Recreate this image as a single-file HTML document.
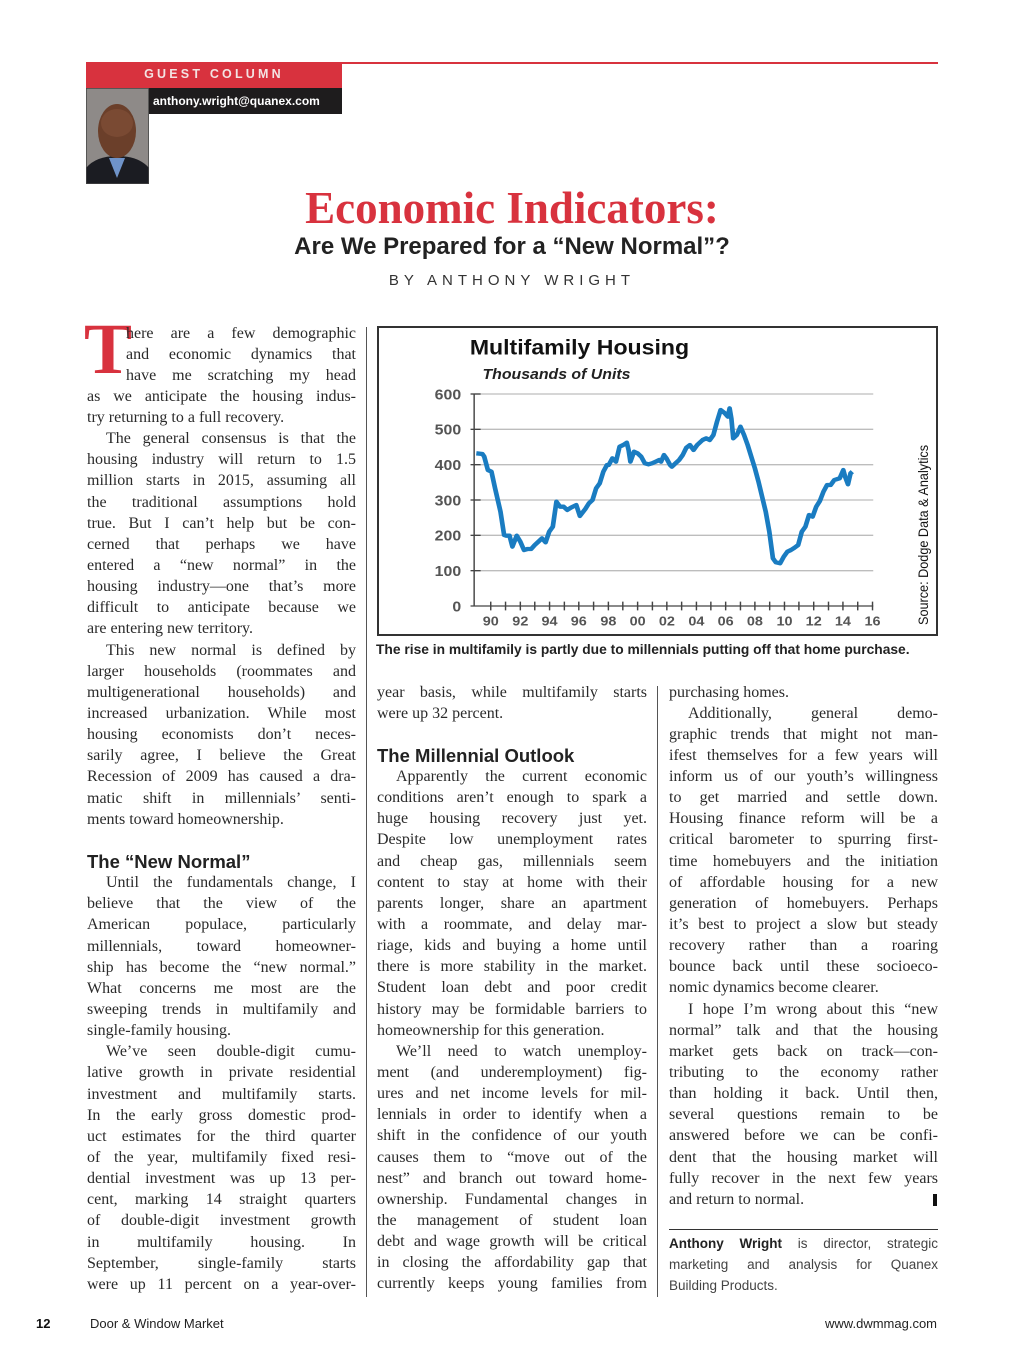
<!DOCTYPE html>
<html><head><meta charset="utf-8">
<style>
body{margin:0;background:#fff;}
#p{position:relative;width:1024px;height:1365px;overflow:hidden;background:#fff;font-family:"Liberation Serif",serif;color:#2a2a2a;}
.a{position:absolute;}
.col{position:absolute;width:269px;font-size:16px;}
.col div{height:21.15px;line-height:21.15px;text-align:justify;text-align-last:justify;overflow:hidden;}
.col div.l{text-align-last:left;}
.col div.i{text-indent:19px;}
.col div.h{font-family:"Liberation Sans",sans-serif;font-weight:bold;font-size:18.5px;text-align-last:left;color:#222;}
.col div.s{font-family:"Liberation Sans",sans-serif;font-size:13.5px;color:#444;}
</style></head><body><div id="p">

<div class="a" style="left:86px;top:62px;width:256px;height:26px;background:#d8323e;"></div>
<div class="a" style="left:342px;top:62px;width:596px;height:2px;background:#d8323e;"></div>
<div class="a" style="left:86px;top:67px;width:256px;text-align:center;font-family:'Liberation Sans',sans-serif;font-weight:bold;font-size:12.5px;letter-spacing:3.2px;color:#f3e3e3;">GUEST COLUMN</div>
<div class="a" style="left:148px;top:88px;width:194px;height:26px;background:#1e1c1d;"></div>
<div class="a" style="left:153px;top:94px;font-family:'Liberation Sans',sans-serif;font-weight:bold;font-size:12px;color:#fff;">anthony.wright@quanex.com</div>
<svg class="a" style="left:86px;top:88px" width="63" height="96" viewBox="0 0 63 96">
<rect width="63" height="96" fill="#8e8a88"/>
<path d="M0 96 L0 80 Q10 68 31 68 Q53 68 63 80 L63 96Z" fill="#1b1c22"/>
<path d="M23 70 L31 90 L39 70Z" fill="#6f93c9"/>
<ellipse cx="31" cy="43" rx="19" ry="27" fill="#6b3f2a"/>
<ellipse cx="31" cy="35" rx="16" ry="14" fill="#7a4a33"/>
<rect x="0" y="0" width="63" height="96" fill="none" stroke="#444" stroke-width="1.5"/>
</svg>

<div class="a" style="left:0;width:1024px;top:182px;text-align:center;font-family:'Liberation Serif',serif;font-weight:bold;font-size:45px;color:#d8323e;">Economic Indicators:</div>
<div class="a" style="left:0;width:1024px;top:233px;text-align:center;font-family:'Liberation Sans',sans-serif;font-weight:bold;font-size:24px;color:#222;">Are We Prepared for a “New Normal”?</div>
<div class="a" style="left:0;width:1024px;top:272px;text-align:center;font-family:'Liberation Sans',sans-serif;font-size:15px;letter-spacing:5px;color:#333;">BY ANTHONY WRIGHT</div>

<div class="a" style="left:84px;top:313px;font-family:'Liberation Serif',serif;font-weight:bold;font-size:72px;line-height:72px;color:#d8323e;">T</div>

<div class="col" style="left:87px;top:322.5px;">
<div style="margin-left:39px">here are a few demographic</div>
<div style="margin-left:39px">and economic dynamics that</div>
<div style="margin-left:39px">have me scratching my head</div>
<div>as we anticipate the housing indus-</div>
<div class="l">try returning to a full recovery.</div>
<div class="i">The general consensus is that the</div>
<div>housing industry will return to 1.5</div>
<div>million starts in 2015, assuming all</div>
<div>the traditional assumptions hold</div>
<div>true. But I can’t help but be con-</div>
<div>cerned that perhaps we have</div>
<div>entered a “new normal” in the</div>
<div>housing industry—one that’s more</div>
<div>difficult to anticipate because we</div>
<div class="l">are entering new territory.</div>
<div class="i">This new normal is defined by</div>
<div>larger households (roommates and</div>
<div>multigenerational households) and</div>
<div>increased urbanization. While most</div>
<div>housing economists don’t neces-</div>
<div>sarily agree, I believe the Great</div>
<div>Recession of 2009 has caused a dra-</div>
<div>matic shift in millennials’ senti-</div>
<div class="l">ments toward homeownership.</div>
<div class="l"></div>
<div class="h">The “New Normal”</div>
<div class="i">Until the fundamentals change, I</div>
<div>believe that the view of the</div>
<div>American populace, particularly</div>
<div>millennials, toward homeowner-</div>
<div>ship has become the “new normal.”</div>
<div>What concerns me most are the</div>
<div>sweeping trends in multifamily and</div>
<div class="l">single-family housing.</div>
<div class="i">We’ve seen double-digit cumu-</div>
<div>lative growth in private residential</div>
<div>investment and multifamily starts.</div>
<div>In the early gross domestic prod-</div>
<div>uct estimates for the third quarter</div>
<div>of the year, multifamily fixed resi-</div>
<div>dential investment was up 13 per-</div>
<div>cent, marking 14 straight quarters</div>
<div>of double-digit investment growth</div>
<div>in multifamily housing. In</div>
<div>September, single-family starts</div>
<div>were up 11 percent on a year-over-</div>
</div>

<div class="a" style="left:366px;top:327px;width:1px;height:970px;background:#555;"></div>
<div class="a" style="left:657px;top:686px;width:1px;height:611px;background:#555;"></div>

<div class="a" style="left:377px;top:326px;width:557px;height:306px;border:2px solid #333;"></div>
<svg class="a" style="left:376px;top:325px" width="564" height="310" viewBox="0 0 1563 930" preserveAspectRatio="none">
<text x="260" y="88" font-family="Liberation Sans,sans-serif" font-weight="bold" font-size="64" fill="#111">Multifamily Housing</text>
<text x="295" y="162" font-family="Liberation Sans,sans-serif" font-weight="bold" font-style="italic" font-size="44" fill="#222">Thousands of Units</text>
<g stroke="#bdbdbd" stroke-width="4">
<line x1="272" y1="207" x2="1378" y2="207"/><line x1="272" y1="313" x2="1378" y2="313"/>
<line x1="272" y1="419" x2="1378" y2="419"/><line x1="272" y1="525" x2="1378" y2="525"/>
<line x1="272" y1="631" x2="1378" y2="631"/><line x1="272" y1="737" x2="1378" y2="737"/>
</g>
<g stroke="#444" stroke-width="4">
<line x1="272" y1="207" x2="272" y2="843"/>
<line x1="262" y1="843" x2="1378" y2="843"/>
<line x1="262" y1="207" x2="290" y2="207"/><line x1="262" y1="313" x2="290" y2="313"/><line x1="262" y1="419" x2="290" y2="419"/><line x1="262" y1="525" x2="290" y2="525"/><line x1="262" y1="631" x2="290" y2="631"/><line x1="262" y1="737" x2="290" y2="737"/>
<path d="M318 830V856M359 830V856M400 830V856M440 830V856M481 830V856M522 830V856M562 830V856M603 830V856M644 830V856M684 830V856M725 830V856M766 830V856M806 830V856M847 830V856M888 830V856M928 830V856M969 830V856M1010 830V856M1050 830V856M1091 830V856M1132 830V856M1172 830V856M1213 830V856M1254 830V856M1294 830V856M1335 830V856M1376 830V856"/>
</g>
<g font-family="Liberation Sans,sans-serif" font-weight="bold" font-size="44" fill="#555" text-anchor="end">
<text x="236" y="223">600</text><text x="236" y="329">500</text><text x="236" y="435">400</text><text x="236" y="541">300</text><text x="236" y="647">200</text><text x="236" y="753">100</text><text x="236" y="859">0</text>
</g>
<g font-family="Liberation Sans,sans-serif" font-weight="bold" font-size="40" fill="#555" text-anchor="middle">
<text x="318" y="902">90</text><text x="400" y="902">92</text><text x="481" y="902">94</text><text x="562" y="902">96</text><text x="644" y="902">98</text><text x="725" y="902">00</text><text x="806" y="902">02</text><text x="888" y="902">04</text><text x="969" y="902">06</text><text x="1050" y="902">08</text><text x="1132" y="902">10</text><text x="1213" y="902">12</text><text x="1294" y="902">14</text><text x="1376" y="902">16</text>
</g>
<polyline fill="none" stroke="#1a7cc1" stroke-width="13" stroke-linejoin="round" points="278,385 295,387 300,395 310,435 320,440 330,490 345,560 355,630 360,632 370,632 378,665 390,632 400,650 410,675 420,672 430,672 440,660 450,650 460,640 470,652 480,620 490,605 500,530 510,545 520,545 530,555 540,548 555,540 565,573 580,552 590,535 600,525 610,490 620,475 630,440 640,420 645,420 655,400 665,410 675,365 685,360 695,353 700,375 705,410 715,380 725,385 735,395 745,415 755,418 765,415 775,410 785,405 790,410 798,390 805,400 815,420 820,425 830,415 840,405 850,390 860,368 870,360 880,375 890,360 905,345 915,340 925,345 935,330 945,290 955,255 965,263 975,275 980,250 985,282 990,340 1000,330 1010,305 1020,330 1030,360 1040,395 1050,430 1060,470 1070,515 1080,560 1090,620 1100,700 1108,712 1120,715 1130,695 1140,680 1150,675 1160,668 1170,660 1180,620 1190,605 1200,570 1210,575 1220,545 1230,528 1240,500 1250,480 1260,480 1270,465 1285,460 1295,435 1300,455 1308,478 1315,445 1320,440"/>
<text transform="translate(1530,900) rotate(-90)" font-family="Liberation Sans,sans-serif" font-size="38" fill="#111">Source: Dodge Data &amp; Analytics</text>
</svg>
<div class="a" style="left:376px;top:642px;font-family:'Liberation Sans',sans-serif;font-weight:bold;font-size:13.8px;color:#222;">The rise in multifamily is partly due to millennials putting off that home purchase.</div>

<div class="col" style="left:377px;top:681.5px;width:270px;">
<div>year basis, while multifamily starts</div>
<div class="l">were up 32 percent.</div>
<div class="l"></div>
<div class="h">The Millennial Outlook</div>
<div class="i">Apparently the current economic</div>
<div>conditions aren’t enough to spark a</div>
<div>huge housing recovery just yet.</div>
<div>Despite low unemployment rates</div>
<div>and cheap gas, millennials seem</div>
<div>content to stay at home with their</div>
<div>parents longer, share an apartment</div>
<div>with a roommate, and delay mar-</div>
<div>riage, kids and buying a home until</div>
<div>there is more stability in the market.</div>
<div>Student loan debt and poor credit</div>
<div>history may be formidable barriers to</div>
<div class="l">homeownership for this generation.</div>
<div class="i">We’ll need to watch unemploy-</div>
<div>ment (and underemployment) fig-</div>
<div>ures and net income levels for mil-</div>
<div>lennials in order to identify when a</div>
<div>shift in the confidence of our youth</div>
<div>causes them to “move out of the</div>
<div>nest” and branch out toward home-</div>
<div>ownership. Fundamental changes in</div>
<div>the management of student loan</div>
<div>debt and wage growth will be critical</div>
<div>in closing the affordability gap that</div>
<div>currently keeps young families from</div>
</div>

<div class="col" style="left:669px;top:681.5px;">
<div class="l">purchasing homes.</div>
<div class="i">Additionally, general demo-</div>
<div>graphic trends that might not man-</div>
<div>ifest themselves for a few years will</div>
<div>inform us of our youth’s willingness</div>
<div>to get married and settle down.</div>
<div>Housing finance reform will be a</div>
<div>critical barometer to spurring first-</div>
<div>time homebuyers and the initiation</div>
<div>of affordable housing for a new</div>
<div>generation of homebuyers. Perhaps</div>
<div>it’s best to project a slow but steady</div>
<div>recovery rather than a roaring</div>
<div>bounce back until these socioeco-</div>
<div class="l">nomic dynamics become clearer.</div>
<div class="i">I hope I’m wrong about this “new</div>
<div>normal” talk and that the housing</div>
<div>market gets back on track—con-</div>
<div>tributing to the economy rather</div>
<div>than holding it back. Until then,</div>
<div>several questions remain to be</div>
<div>answered before we can be confi-</div>
<div>dent that the housing market will</div>
<div>fully recover in the next few years</div>
<div class="l">and return to normal.</div>
</div>
<div class="a" style="left:933px;top:1194px;width:4px;height:12px;background:#111;"></div>
<div class="a" style="left:669px;top:1229px;width:269px;height:1px;background:#333;"></div>
<div class="col" style="left:669px;top:1232.5px;">
<div class="s"><b style="color:#222">Anthony Wright</b> is director, strategic</div>
<div class="s">marketing and analysis for Quanex</div>
<div class="s l">Building Products.</div>
</div>

<div class="a" style="left:36px;top:1316px;font-family:'Liberation Sans',sans-serif;font-weight:bold;font-size:13px;color:#111;">12</div>
<div class="a" style="left:90px;top:1316px;font-family:'Liberation Sans',sans-serif;font-size:13px;color:#222;">Door &amp; Window Market</div>
<div class="a" style="right:87px;top:1316px;font-family:'Liberation Sans',sans-serif;font-size:13px;color:#222;">www.dwmmag.com</div>
</div></body></html>
